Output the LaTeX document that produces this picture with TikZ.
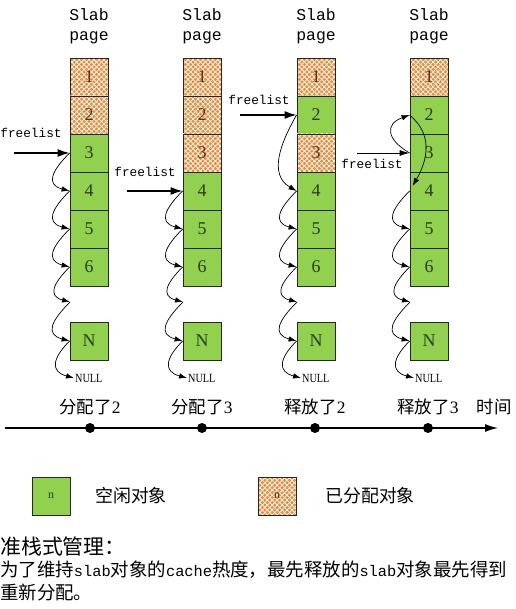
\documentclass[tikz,border=0pt]{standalone}
\usepackage{fontspec}
\setmainfont{Liberation Serif}
\newfontfamily\cjk{Noto Sans CJK SC}
\newfontfamily\mono{Liberation Mono}
\usetikzlibrary{arrows.meta,patterns.meta}
\definecolor{grn}{RGB}{146,208,80}
\definecolor{org}{RGB}{228,142,62}
\definecolor{txtg}{RGB}{40,60,20}
\definecolor{txto}{RGB}{90,50,20}
\newcommand\latw[1]{{\mono\fontsize{15.4}{15.4}\selectfont #1}}
\tikzset{
 cell/.style={draw=black!85, line width=0.8bp, minimum size=38bp, inner sep=0pt, font=\fontsize{18}{18}\selectfont},
 free/.style={cell, fill=grn, text=txtg},
 used/.style={cell, fill=org, text=txto,
   postaction={pattern={Lines[angle=45,distance=3.5bp,line width=0.7bp]}, pattern color=white},
   postaction={pattern={Lines[angle=-45,distance=3.5bp,line width=0.7bp]}, pattern color=white},
   postaction={draw=black!85, line width=0.8bp}},
 hdr/.style={font=\mono\fontsize{16.5}{16.5}\selectfont, inner sep=0pt},
 fl/.style={font=\mono\fontsize{12.8}{12.8}\selectfont, inner sep=0pt},
 fla/.style={line width=1.5bp, -{Latex[length=12bp,width=8bp]}},
 lk/.style={line width=0.7bp, -{Latex[length=8bp,width=5.5bp]}},
 dn/.style={out=225, in=165, looseness=1.7},
 nul/.style={anchor=west, inner sep=0pt, font=\fontsize{12.5}{12.5}\selectfont, xscale=0.82},
 dot/.style={circle, fill=black, minimum size=10bp, inner sep=0pt},
 tl/.style={font=\cjk\fontsize{17.5}{17.5}\selectfont, inner sep=0pt},
 lt/.style={anchor=west, font=\cjk\fontsize{18}{18}\selectfont, inner sep=0pt},
}
\begin{document}
\begin{tikzpicture}[x=1bp,y=1bp]
\useasboundingbox (0,0) rectangle (516,609);
% headers
\foreach \k/\x in {1/89,2/202,3/316,4/429}{
  \node[hdr] (h\k) at (\x,594) {Slab};
  \node[hdr] (p\k) at (\x,571) {page};
}
% columns
\foreach \r/\s in {1/used,2/used,3/free,4/free,5/free,6/free}
  \node[\s] (k1-\r) at (89,{570-38*\r}) {\r};
\foreach \r/\s in {1/used,2/used,3/used,4/free,5/free,6/free}
  \node[\s] (k2-\r) at (202,{570-38*\r}) {\r};
\foreach \r/\s in {1/used,2/free,3/used,4/free,5/free,6/free}
  \node[\s] (k3-\r) at (316,{570-38*\r}) {\r};
\foreach \r/\s in {1/used,2/free,3/free,4/free,5/free,6/free}
  \node[\s] (k4-\r) at (429,{570-38*\r}) {\r};
\foreach \k/\x in {1/89,2/202,3/316,4/429}{
  \node[free] (k\k-n) at (\x,268) {N};
  \coordinate (g\k) at (\x-19,307);
  \node[nul] (u\k) at (\x-14,231) {NULL};
}
% freelist pointers
\node[fl] (f1) at (31,476) {freelist};
\coordinate (fs1) at (14,456);
\draw[fla] (fs1) -- (k1-3.west);
\node[fl] (f2) at (145,437) {freelist};
\coordinate (fs2) at (127,418);
\draw[fla] (fs2) -- (k2-4.west);
\node[fl] (f3) at (259,509) {freelist};
\coordinate (fs3) at (240,494);
\draw[fla] (fs3) -- (k3-2.west);
\node[fl] (f4) at (372,445) {freelist};
\coordinate (fs4) at (357,456);
\draw[line width=0.9bp, -{Latex[length=10bp,width=6bp]}] (fs4) -- (k4-3.west);
% links
\draw[lk] (k1-3.west) to[dn] (k1-4.west);
\draw[lk] (k3-2.west) to[out=240, in=150, looseness=1.1] (k3-4.west);
\draw[lk] (k4-3.west) to[out=150, in=200, looseness=1.8] (k4-2.west);
\draw[lk] (k4-2.west) to[out=-40, in=60, looseness=1.1] ([xshift=3bp,yshift=5bp]k4-4.west);
\foreach \k in {1,2,3,4}{
  \draw[lk] (k\k-4.west) to[dn] (k\k-5.west);
  \draw[lk] (k\k-5.west) to[dn] (k\k-6.west);
  \draw[lk] (k\k-6.west) to[dn] (g\k);
  \draw[lk] (g\k) to[dn] (k\k-n.west);
  \draw[lk] (k\k-n.west) to[dn] ([xshift=-1bp]u\k.west);
}
% timeline
\coordinate (t0) at (5,181);
\coordinate (t1) at (498,181);
\draw[line width=1.2bp, -{Latex[length=13bp,width=8bp]}] (t0) -- (t1);
\node[dot] (d1) at (90,181) {};
\node[dot] (d2) at (202,181) {};
\node[dot] (d3) at (315,181) {};
\node[dot] (d4) at (428,181) {};
\node[tl] (l1) at (90,202) {分配了{\rmfamily 2}};
\node[tl] (l2) at (202,202) {分配了{\rmfamily 3}};
\node[tl] (l3) at (315,202) {释放了{\rmfamily 2}};
\node[tl] (l4) at (428,202) {释放了{\rmfamily 3}};
\node[tl] (tt) at (494,202) {时间};
% legend
\node[free, font=\fontsize{12}{12}\selectfont] (lg1) at (51,113) {n};
\node[used, font=\fontsize{12}{12}\selectfont] (lg2) at (277,113) {n};
\node[lt] (lt1) at (95,113) {空闲对象};
\node[lt] (lt2) at (325,113) {已分配对象};
% bottom text
\node[anchor=west, inner sep=0pt, font=\cjk\fontsize{21}{21}\selectfont] (b1) at (0,62) {准栈式管理：};
\node[anchor=west, inner sep=0pt, font=\cjk\fontsize{18.5}{18.5}\selectfont] (b2) at (0,39) {为了维持\latw{slab}对象的\latw{cache}热度，最先释放的\latw{slab}对象最先得到};
\node[anchor=west, inner sep=0pt, font=\cjk\fontsize{18.5}{18.5}\selectfont] (b3) at (0,17) {重新分配。};
\end{tikzpicture}
\end{document}
